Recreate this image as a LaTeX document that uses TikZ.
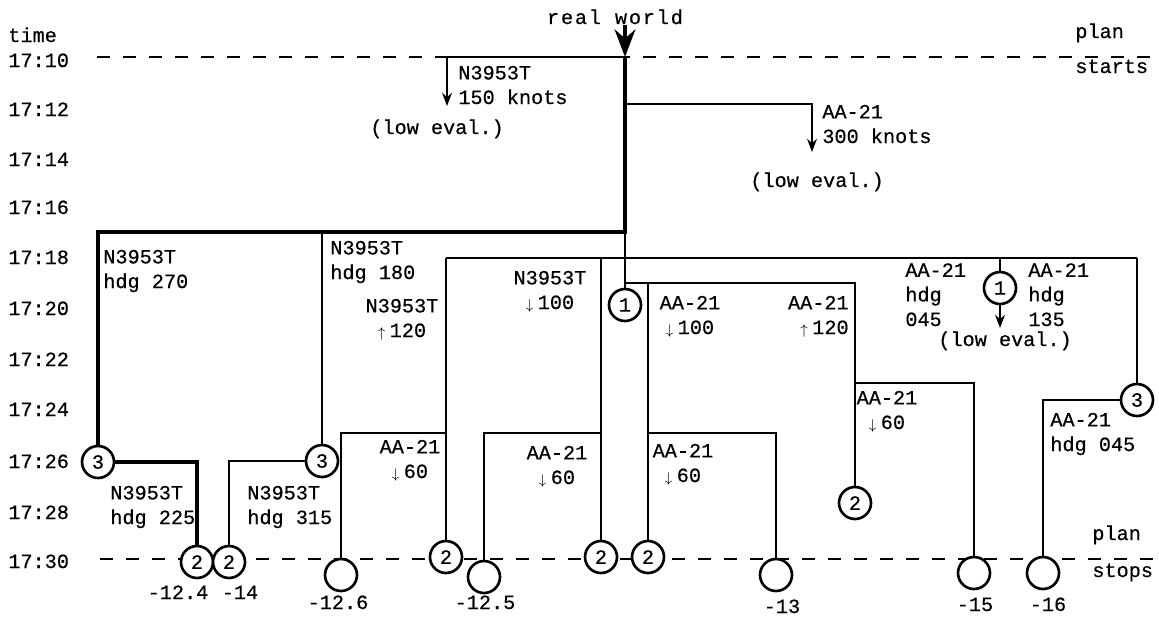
\documentclass[tikz,border=0pt]{standalone}
\usepackage{fontspec}
\setmonofont{Liberation Mono}[FakeBold=0.5]
\usetikzlibrary{arrows.meta}

\newcommand{\dnar}{$\scriptstyle\downarrow$\kern2.5pt}
\newcommand{\upar}{$\scriptstyle\uparrow$\kern2.5pt}

\begin{document}
\begin{tikzpicture}[x=0.2mm, y=-0.2mm, >=Stealth,
    txt/.style={font=\ttfamily\fontsize{11.5}{14}\selectfont, inner sep=0pt, align=left, anchor=base west},
    mid/.style={txt, align=center, anchor=base},
    dot/.style={circle, draw, fill=white, line width=1.5pt, minimum size=6.4mm, inner sep=0pt,
      font=\ttfamily\fontsize{11.5}{14}\selectfont},
    br/.style={line width=1pt},
    best/.style={line width=2.8pt},
    planline/.style={line width=1pt, dash pattern=on 2.6mm off 2.6mm}]
    \useasboundingbox (0,0) rectangle (1159,617);

    % Time axis
    \node[txt] (tt) at (8,42) {time};
    \node[txt] (t10) at (8,67) {17:10}; \node[txt] (t12) at (8,116) {17:12};
    \node[txt] (t14) at (8,166) {17:14}; \node[txt] (t16) at (8,214) {17:16};
    \node[txt] (t18) at (8,264) {17:18}; \node[txt] (t20) at (8,315) {17:20};
    \node[txt] (t22) at (8,366) {17:22}; \node[txt] (t24) at (8,416) {17:24};
    \node[txt] (t26) at (8,468) {17:26}; \node[txt] (t28) at (8,519) {17:28};
    \node[txt] (t30) at (8,568) {17:30};

    % Plan start and stop lines
    \coordinate (ps1) at (97,57); \coordinate (ps2) at (1159,57);
    \coordinate (pe1) at (100,559); \coordinate (pe2) at (1159,559);
    \draw[planline] (ps1) -- (ps2); \draw[planline] (pe1) -- (pe2);
    \node[txt] (pl1) at (1075,38) {plan}; \node[txt] (st1) at (1075,73) {starts};
    \node[txt] (pl2) at (1092,540) {plan}; \node[txt] (st2) at (1092,577) {stops};

    % Choice points and leaves
    \node[dot] (c3a) at (98,462) {3}; \node[dot] (c3b) at (322,461) {3};
    \node[dot] (c3c) at (1137,400) {3};
    \node[dot] (c1a) at (625,305) {1}; \node[dot] (c1b) at (1000,288) {1};
    \node[dot] (c2a) at (197,562) {2}; \node[dot] (c2b) at (229,562) {2};
    \node[dot] (c2c) at (446,557) {2}; \node[dot] (c2d) at (601,557) {2};
    \node[dot] (c2e) at (648,557) {2}; \node[dot] (c2f) at (855,503) {2};
    \node[dot] (o1) at (341,575) {}; \node[dot] (o2) at (484,577) {};
    \node[dot] (o3) at (776,575) {}; \node[dot] (o4) at (974,573) {};
    \node[dot] (o5) at (1043,573) {};

    % Junctions
    \coordinate (s0) at (625,57); \coordinate (j1) at (625,104);
    \coordinate (j2) at (625,232); \coordinate (j4) at (625,283);
    \coordinate (e150) at (447,106); \coordinate (e300) at (812,152);
    \coordinate (k1) at (322,232);
    \coordinate (h1) at (446,258); \coordinate (h2) at (1137,258);
    \coordinate (h3) at (601,258); \coordinate (h4) at (1000,258);
    \coordinate (e1b) at (1000,328);
    \coordinate (m1) at (446,433); \coordinate (m2) at (601,433);
    \coordinate (m3) at (648,433); \coordinate (j6) at (648,283);
    \coordinate (j5) at (855,283); \coordinate (m4) at (855,383);

    % Real world path
    \node[txt, anchor=base] (rw) at (615,24) {\addfontfeature{LetterSpace=9}real world};
    \draw[best,->] (rw.south -| s0) -- (s0);
    \draw[best] (s0) -- (j2) -| (c3a);
    \draw[best] (c3a) -| (c2a);

    % Branches
    \draw[br,->] (s0) -| (e150);
    \draw[br,->] (j1) -| (e300);
    \draw[br] (j2) -- (j4) -- (c1a);
    \draw[br] (k1) -- (c3b); \draw[br] (c3b) -| (c2b);
    \draw[br] (h1) -- (h2);
    \draw[br] (h1) -- (c2c); \draw[br] (m1) -| (o1);
    \draw[br] (h3) -- (c2d); \draw[br] (m2) -| (o2);
    \draw[br] (h4) -- (c1b); \draw[br,->] (c1b) -- (e1b);
    \draw[br] (h2) -- (c3c); \draw[br] (c3c) -| (o5);
    \draw[br] (j4) -- (j5) -- (c2f); \draw[br] (m4) -| (o4);
    \draw[br] (j6) -- (c2e); \draw[br] (m3) -| (o3);

    % Branch labels (base = last line)
    \node[txt] (l150) at (458,104) {N3953T\\150 knots};
    \node[txt] (lo1) at (370,134) {(low eval.)};
    \node[txt] (l300) at (822,143) {AA-21\\300 knots};
    \node[txt] (lo2) at (750,187) {(low eval.)};
    \node[txt] (l270) at (103,288) {N3953T\\hdg 270};
    \node[txt] (l180) at (330,279) {N3953T\\hdg 180};
    \node[mid] (lu120) at (402,337) {N3953T\\\upar120};
    \node[mid] (ld100) at (550,309) {N3953T\\\dnar100};
    \node[mid] (ad100) at (690,334) {AA-21\\\dnar100};
    \node[txt, align=right, anchor=base east] (au120) at (849,334) {AA-21\\\upar120};
    \node[mid] (ad60a) at (410,478) {AA-21\\\dnar60};
    \node[mid] (ad60b) at (557,484) {AA-21\\\dnar60};
    \node[mid] (ad60c) at (683,482) {AA-21\\\dnar60};
    \node[mid] (ad60d) at (887,429) {AA-21\\\dnar60};
    \node[txt] (a045) at (905,326) {AA-21\\hdg\\045};
    \node[txt] (a135) at (1028,326) {AA-21\\hdg\\135};
    \node[txt] (lo3) at (938,346) {(low eval.)};
    \node[txt] (ah045) at (1050,451) {AA-21\\hdg 045};
    \node[txt] (l225) at (110,524) {N3953T\\hdg 225};
    \node[txt] (l315) at (247,524) {N3953T\\hdg 315};

    % Evaluations
    \node[mid] (v1) at (178,599) {-12.4}; \node[mid] (v2) at (240,599) {-14};
    \node[mid] (v3) at (338,609) {-12.6}; \node[mid] (v4) at (485,609) {-12.5};
    \node[mid] (v5) at (782,613) {-13}; \node[mid] (v6) at (975,611) {-15};
    \node[mid] (v7) at (1048,611) {-16};
\end{tikzpicture}
\end{document}
